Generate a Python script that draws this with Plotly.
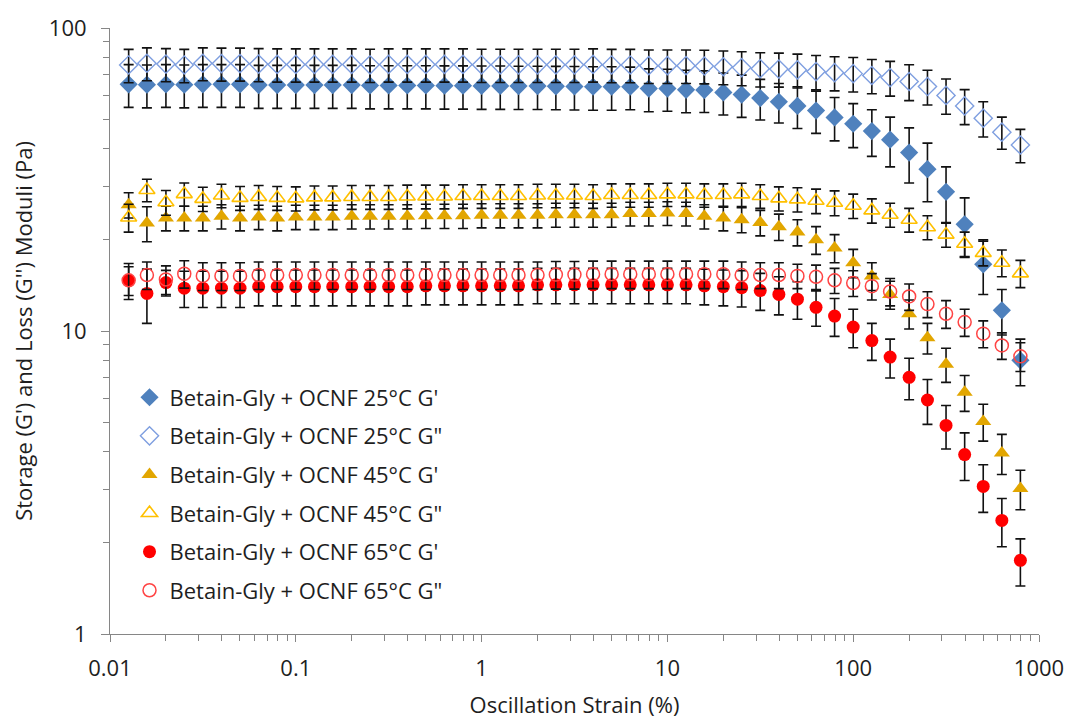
import plotly.graph_objects as go

# Oscillation strain (%)
strain = [0.0126, 0.0158, 0.02, 0.0251, 0.0316, 0.0398, 0.0501, 0.0631, 0.0794, 0.1,
          0.126, 0.158, 0.2, 0.251, 0.316, 0.398, 0.501, 0.631, 0.794, 1.0,
          1.26, 1.58, 2.0, 2.51, 3.16, 3.98, 5.01, 6.31, 7.94, 10.0,
          12.6, 15.8, 20.0, 25.1, 31.6, 39.8, 50.1, 63.1, 79.4, 100,
          126, 158, 200, 251, 316, 398, 501, 631, 794]

# 25 °C
g1_25 = [65.2, 65.0, 65.2, 65.0, 65.2, 65.2, 65.2, 64.8, 64.8, 64.8,
         64.8, 64.8, 64.8, 64.6, 64.6, 64.6, 64.6, 64.5, 64.5, 64.4,
         64.4, 64.3, 64.3, 64.2, 64.1, 64.0, 64.0, 64.0, 63.1, 63.1,
         62.5, 62.4, 61.3, 60.3, 58.7, 57.1, 55.3, 53.4, 50.7, 48.3,
         45.7, 42.8, 38.8, 34.2, 28.8, 22.5, 16.6, 11.7, 8.0]
g1_25_err = [10.5, 10.5, 10.5, 10.5, 10.5, 10.5, 10.5, 10.5, 10.5, 10.5,
             10.5, 10.5, 10.5, 10.5, 10.5, 10.5, 10.5, 10.5, 10.5, 10.5,
             10.5, 10.5, 10.5, 10.5, 10.5, 10.5, 10.5, 10.3, 10.2, 10.0,
             10.0, 9.8, 9.7, 9.6, 9.0, 8.5, 8.7, 8.5, 8.3, 8.0,
             8.0, 8.0, 8.0, 7.5, 6.0, 5.0, 3.4, 2.0, 1.4]
g2_25 = [75.5, 76.5, 76.0, 75.5, 76.5, 76.3, 76.3, 76.0, 75.8, 75.8,
         75.8, 75.8, 75.8, 75.6, 75.8, 75.8, 75.8, 75.8, 75.8, 75.6,
         75.6, 75.6, 75.6, 75.6, 75.6, 75.8, 75.5, 75.5, 75.1, 75.1,
         75.1, 74.9, 74.5, 74.0, 73.4, 73.2, 72.7, 71.8, 71.2, 70.7,
         69.7, 68.6, 66.6, 64.1, 59.9, 55.3, 50.4, 45.3, 41.1]
g2_25_err = [9.5, 9.5, 9.5, 9.5, 9.5, 9.5, 9.5, 9.5, 9.5, 9.5,
             9.5, 9.5, 9.5, 9.5, 9.5, 9.5, 9.5, 9.5, 9.5, 9.5,
             9.5, 9.5, 9.5, 9.5, 9.5, 9.5, 9.5, 9.5, 9.5, 9.5,
             9.5, 9.5, 9.5, 9.5, 9.5, 9.4, 9.3, 9.3, 9.2, 9.2,
             9.0, 9.0, 9.0, 8.4, 8.0, 7.3, 6.7, 5.5, 5.2]

# 45 °C
g1_45 = [26.1, 22.7, 23.6, 23.6, 23.6, 23.9, 23.6, 23.8, 23.6, 23.8,
         23.8, 23.8, 23.9, 23.9, 23.9, 23.9, 24.0, 24.0, 24.0, 24.1,
         24.1, 24.1, 24.1, 24.2, 24.2, 24.2, 24.2, 24.4, 24.4, 24.5,
         24.4, 23.9, 23.6, 23.3, 22.8, 22.1, 21.2, 20.0, 18.8, 16.8,
         15.2, 13.2, 11.4, 9.5, 7.77, 6.28, 5.03, 3.96, 3.02]
g1_45_err = [2.5, 3.0, 2.2, 2.2, 2.2, 2.2, 2.2, 2.2, 2.2, 2.2,
             2.2, 2.2, 2.2, 2.2, 2.2, 2.2, 2.2, 2.2, 2.2, 2.2,
             2.2, 2.2, 2.2, 2.2, 2.2, 2.2, 2.2, 2.2, 2.2, 2.2,
             2.2, 2.2, 2.2, 2.2, 2.2, 2.2, 2.1, 2.1, 2.0, 1.8,
             1.6, 1.4, 1.25, 1.1, 1.0, 0.85, 0.7, 0.6, 0.45]
g2_45 = [23.7, 29.2, 26.6, 28.3, 27.3, 28.0, 27.5, 27.7, 27.5, 27.4,
         27.6, 27.6, 27.7, 27.7, 27.7, 27.8, 27.8, 27.8, 27.9, 27.9,
         27.9, 27.9, 28.0, 28.0, 28.0, 27.9, 28.1, 28.1, 28.1, 28.25,
         28.25, 28.1, 28.1, 28.25, 27.9, 27.4, 27.2, 26.9, 26.5, 25.9,
         25.0, 24.2, 23.3, 22.0, 20.8, 19.4, 18.1, 16.8, 15.5]
g2_45_err = [2.5, 2.5, 2.5, 2.5, 2.5, 2.5, 2.5, 2.5, 2.5, 2.5,
             2.5, 2.5, 2.5, 2.5, 2.5, 2.5, 2.5, 2.5, 2.5, 2.5,
             2.5, 2.5, 2.5, 2.5, 2.5, 2.5, 2.5, 2.5, 2.5, 2.5,
             2.5, 2.5, 2.5, 2.5, 2.5, 2.5, 2.5, 2.5, 2.5, 2.4,
             2.3, 2.2, 2.1, 2.0, 1.9, 1.8, 1.7, 1.7, 1.6]

# 65 °C
g1_65 = [14.7, 13.3, 14.45, 13.85, 13.85, 13.85, 13.85, 14.0, 14.0, 14.0,
         14.0, 14.0, 14.0, 14.0, 14.0, 14.0, 14.1, 14.1, 14.1, 14.1,
         14.1, 14.1, 14.2, 14.2, 14.2, 14.2, 14.2, 14.2, 14.2, 14.2,
         14.2, 14.1, 14.0, 13.9, 13.6, 13.2, 12.74, 11.97, 11.2, 10.3,
         9.3, 8.2, 7.03, 5.92, 4.88, 3.91, 3.07, 2.37, 1.75]
g1_65_err = [2.0, 2.7, 1.4, 1.9, 1.9, 1.9, 1.9, 1.9, 1.9, 1.9,
             1.9, 1.9, 1.9, 1.9, 1.9, 1.9, 1.9, 1.9, 1.9, 1.9,
             1.9, 1.9, 1.9, 1.9, 1.9, 1.9, 1.9, 1.9, 1.9, 1.9,
             1.9, 1.9, 1.9, 1.9, 1.9, 1.9, 1.8, 1.6, 1.6, 1.5,
             1.3, 1.2, 1.1, 1.0, 0.8, 0.7, 0.55, 0.43, 0.31]
g2_65 = [14.7, 15.3, 14.8, 15.45, 15.2, 15.2, 15.2, 15.3, 15.3, 15.3,
         15.3, 15.3, 15.3, 15.3, 15.3, 15.3, 15.3, 15.3, 15.3, 15.3,
         15.3, 15.3, 15.3, 15.35, 15.35, 15.4, 15.4, 15.4, 15.4, 15.4,
         15.4, 15.4, 15.4, 15.3, 15.3, 15.3, 15.2, 15.1, 14.7, 14.4,
         14.06, 13.5, 13.0, 12.27, 11.4, 10.7, 9.8, 8.96, 8.25]
g2_65_err = [1.6, 1.6, 1.6, 1.6, 1.6, 1.6, 1.6, 1.6, 1.6, 1.6,
             1.6, 1.6, 1.6, 1.6, 1.6, 1.6, 1.6, 1.6, 1.6, 1.6,
             1.6, 1.6, 1.6, 1.6, 1.6, 1.6, 1.6, 1.6, 1.6, 1.6,
             1.6, 1.6, 1.6, 1.6, 1.5, 1.5, 1.4, 1.4, 1.4, 1.4,
             1.4, 1.4, 1.3, 1.2, 1.2, 1.1, 1.0, 0.9, 0.9]

names = ["Betain-Gly + OCNF 25°C G'", 'Betain-Gly + OCNF 25°C G"',
         "Betain-Gly + OCNF 45°C G'", 'Betain-Gly + OCNF 45°C G"',
         "Betain-Gly + OCNF 65°C G'", 'Betain-Gly + OCNF 65°C G"']

x_tickvals = [0.01, 0.1, 1, 10, 100, 1000]
x_ticktext = ["0.01", "0.1", "1", "10", "100", "1000"]
y_tickvals = [1, 10, 100]
y_ticktext = ["1", "10", "100"]

series = [
    (g1_25, g1_25_err, dict(symbol="diamond", size=14, color="#4F81BD")),
    (g2_25, g2_25_err, dict(symbol="diamond-open", size=14, color="#7F9FE0", line=dict(width=1.4))),
    (g1_45, g1_45_err, dict(symbol="triangle-up", size=14, color="#E2A600")),
    (g2_45, g2_45_err, dict(symbol="triangle-up-open", size=14, color="#FFC000", line=dict(width=1.6))),
    (g1_65, g1_65_err, dict(symbol="circle", size=13, color="#FF0000")),
    (g2_65, g2_65_err, dict(symbol="circle-open", size=13, color="#FF4444", line=dict(width=1.5))),
]

fig = go.Figure()
for i, (vals, errs, mk) in enumerate(series):
    fig.add_trace(go.Scatter(
        x=strain, y=vals, mode="markers", name=names[i],
        legendgroup=f"g{i}",
        marker=mk,
        error_y=dict(type="data", array=errs, visible=True,
                     color="#111111", thickness=1.6, width=5),
    ))

font_family = "'Open Sans', Lato, sans-serif"
txt = "#1e1e1e"
fig.update_layout(
    width=1076, height=726,
    margin=dict(l=110, r=31, t=25, b=90),
    paper_bgcolor="white", plot_bgcolor="white",
    font=dict(family=font_family, size=20, color=txt),
    showlegend=True,
    legend=dict(x=0.021, y=0.425, xanchor="left", yanchor="top",
                bgcolor="rgba(0,0,0,0)", tracegroupgap=7,
                font=dict(family=font_family, size=22, color=txt),
                itemwidth=30),
    xaxis=dict(type="log", range=[-2, 3], showgrid=False, zeroline=False,
               showline=True, linecolor="#868686", linewidth=1,
               tickmode="array", tickvals=x_tickvals, ticktext=x_ticktext,
               ticks="outside", ticklen=7, tickcolor="#868686",
               ticklabelstandoff=8,
               minor=dict(ticks="outside", ticklen=6, tickcolor="#868686", dtick="D1", showgrid=False),
               tickfont=dict(size=22, color=txt),
               title=dict(text="Oscillation Strain (%)", font=dict(size=22, color=txt), standoff=16)),
    yaxis=dict(type="log", range=[0, 2], showgrid=False, zeroline=False,
               showline=True, linecolor="#868686", linewidth=1,
               tickmode="array", tickvals=y_tickvals, ticktext=y_ticktext,
               ticks="outside", ticklen=8, tickcolor="#868686",
               ticklabelstandoff=10,
               minor=dict(ticks="outside", ticklen=6, tickcolor="#868686", dtick="D1", showgrid=False),
               tickfont=dict(size=22, color=txt),
               title=dict(text="Storage (G') and Loss (G'') Moduli (Pa)", font=dict(size=22, color=txt), standoff=10)),
)

fig.write_html("out.html")
